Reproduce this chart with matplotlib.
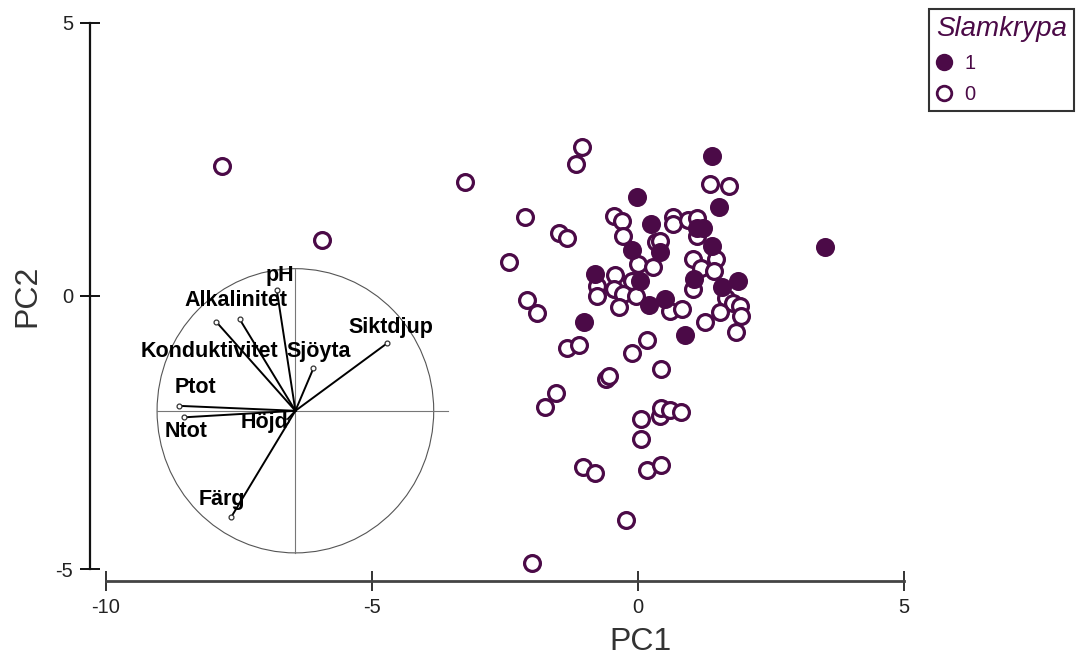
import numpy as np
import matplotlib.pyplot as plt
from matplotlib.patches import Circle
from matplotlib.lines import Line2D

# -------------------------------------------------
# DATA
# -------------------------------------------------
purple = "#4b0a47"

# Slamkrypa = 0 (open circles)
pc1_open = [-7.82, -5.94, -3.26, -1.06, -1.16, 1.36, 1.71, -2.13, -0.46, -0.31,
            0.66, 0.65, 0.94, 1.10, 1.11, -1.48, -1.33, -0.29, 0.33, 0.41,
            -2.42, 1.03, 1.47, 0.00, 0.28, 1.19, 1.42, -0.44, -0.12, -0.77,
            -0.78, -0.46, -0.29, 1.03, -0.03, -0.36, 0.60, 0.82, 1.66, 1.78,
            1.91, 1.94, 1.54, 1.25, 1.85, -2.08, -1.89, -1.34, -1.11, 0.17,
            -0.11, 0.44, -0.61, -0.55, -1.55, -1.74, 0.06, 0.41, 0.43, 0.61,
            0.80, 0.06, -1.03, -0.81, 0.16, 0.43, -0.22, -1.99]
pc2_open = [2.38, 1.02, 2.09, 2.73, 2.41, 2.05, 2.01, 1.45, 1.46, 1.37,
            1.45, 1.32, 1.39, 1.43, 1.10, 1.16, 1.06, 1.10, 0.98, 1.01,
            0.62, 0.68, 0.68, 0.58, 0.53, 0.52, 0.46, 0.38, 0.27, 0.18,
            0.00, 0.12, 0.03, 0.12, 0.00, -0.21, -0.27, -0.23, -0.03, -0.12,
            -0.18, -0.37, -0.29, -0.48, -0.65, -0.07, -0.31, -0.95, -0.90, -0.81,
            -1.05, -1.34, -1.51, -1.46, -1.77, -2.03, -2.25, -2.20, -2.05, -2.09,
            -2.12, -2.61, -3.13, -3.24, -3.19, -3.10, -4.09, -4.88]

# Slamkrypa = 1 (filled circles)
pc1_fill = [1.39, -0.01, 1.53, 0.25, 1.10, 1.23, -0.11, 0.42, 1.39, 3.51,
            -0.81, 0.03, 1.06, 1.88, 1.57, 0.20, 0.50, -1.01, 0.88]
pc2_fill = [2.56, 1.81, 1.62, 1.32, 1.25, 1.24, 0.84, 0.81, 0.91, 0.90,
            0.41, 0.27, 0.31, 0.27, 0.16, -0.16, -0.06, -0.48, -0.72]

# loadings biplot (drawn inside a circle placed at bip_center)
bip_center = (-6.44, -2.10)
bip_radius = 2.6
var_names = ["pH", "Alkalinitet", "Konduktivitet", "Sjöyta", "Siktdjup",
             "Ptot", "Ntot", "Höjd", "Färg"]
load_x = [-0.35, -1.05, -1.49, 0.34, 1.73, -2.18, -2.10, -0.17, -1.21]
load_y = [2.21, 1.68, 1.63, 0.78, 1.24, 0.09, -0.12, -0.18, -1.95]
label_x = [-6.74, -7.56, -8.06, -6.00, -4.64, -8.31, -8.50, -7.03, -7.82]
label_y = [0.37, -0.08, -1.01, -1.01, -0.58, -1.67, -2.47, -2.32, -3.72]

x_ticks = [-10, -5, 0, 5]
y_ticks = [-5, 0, 5]

# -------------------------------------------------
# FIGURE
# -------------------------------------------------
plt.rcParams['font.family'] = ['Liberation Sans', 'DejaVu Sans']

fig = plt.figure(figsize=(10.76, 6.59), dpi=100)
ax = fig.add_axes([106 / 1076, (659 - 569.3) / 659, 798 / 1076, 546.6 / 659])

# biplot circle and cross
cx, cy = bip_center
ax.add_patch(Circle(bip_center, bip_radius, fill=False, ec="#555555", lw=0.8))
ax.plot([cx - bip_radius, cx + 2.87], [cy, cy], color="#777777", lw=0.8)
ax.plot([cx, cx], [cy + bip_radius, cy - bip_radius], color="#777777", lw=0.8)

for i in range(len(var_names)):
    ex = cx + load_x[i]
    ey = cy + load_y[i]
    ax.plot([cx, ex], [cy, ey], color="black", lw=1.4)
    ax.plot(ex, ey, "o", ms=3.5, mfc="white", mec="#333333", mew=0.9)
    ax.text(label_x[i], label_y[i], var_names[i], fontsize=15.5,
            fontweight="bold", ha="center", va="center", color="black")

# scores
ax.scatter(pc1_open, pc2_open, s=130, facecolors="white", edgecolors=purple,
           linewidths=2.3, clip_on=False, zorder=3)
ax.scatter(pc1_fill, pc2_fill, s=130, facecolors=purple, edgecolors=purple,
           linewidths=2.3, clip_on=False, zorder=4)

ax.set_xlim(-10, 5)
ax.set_ylim(-5, 5)

# detached axes
for s in ["top", "right"]:
    ax.spines[s].set_visible(False)
ax.spines["left"].set_position(("outward", 11.5))
ax.spines["bottom"].set_position(("outward", 8.4))
ax.spines["left"].set_bounds(-5, 5)
ax.spines["bottom"].set_bounds(-10, 5)
ax.spines["left"].set_linewidth(1.6)
ax.spines["left"].set_color("#111111")
ax.spines["bottom"].set_linewidth(2.0)
ax.spines["bottom"].set_color("#444444")

ax.set_xticks(x_ticks)
ax.set_yticks(y_ticks)
ax.set_xticklabels([str(t) for t in x_ticks])
ax.set_yticklabels([str(t) for t in y_ticks])
ax.tick_params(axis="both", direction="inout", length=14.4, width=1.4,
               labelsize=14.5, labelcolor="#222222", pad=5)
ax.tick_params(axis="y", colors="#111111", labelcolor="#222222")
ax.tick_params(axis="x", colors="#333333", labelcolor="#222222")

ax.set_xlabel("PC1", fontsize=23, color="#333333")
ax.set_ylabel("PC2", fontsize=23, color="#333333")
ax.xaxis.set_label_coords((640 - 106) / 798, -0.105)
ax.yaxis.set_label_coords(-0.08, 0.5)

# legend
handles = [
    Line2D([], [], ls="none", marker="o", ms=10.5, mfc=purple, mec=purple, mew=2),
    Line2D([], [], ls="none", marker="o", ms=10.5, mfc="white", mec=purple, mew=2),
]
leg = fig.legend(handles, ["1", "0"], title="Slamkrypa",
                 loc="upper right", bbox_to_anchor=(1074 / 1076, 1 - 9 / 659),
                 frameon=True, fancybox=False, edgecolor="black",
                 fontsize=14.5, title_fontsize=20, borderpad=0.35,
                 handlelength=0.8, handletextpad=0.6, labelspacing=0.6,
                 borderaxespad=0, alignment="left")
leg.get_frame().set_linewidth(1.5)
leg.get_title().set_style("italic")
leg.get_title().set_color(purple)
for t in leg.get_texts():
    t.set_color(purple)

fig.savefig("out.png", dpi=100)
